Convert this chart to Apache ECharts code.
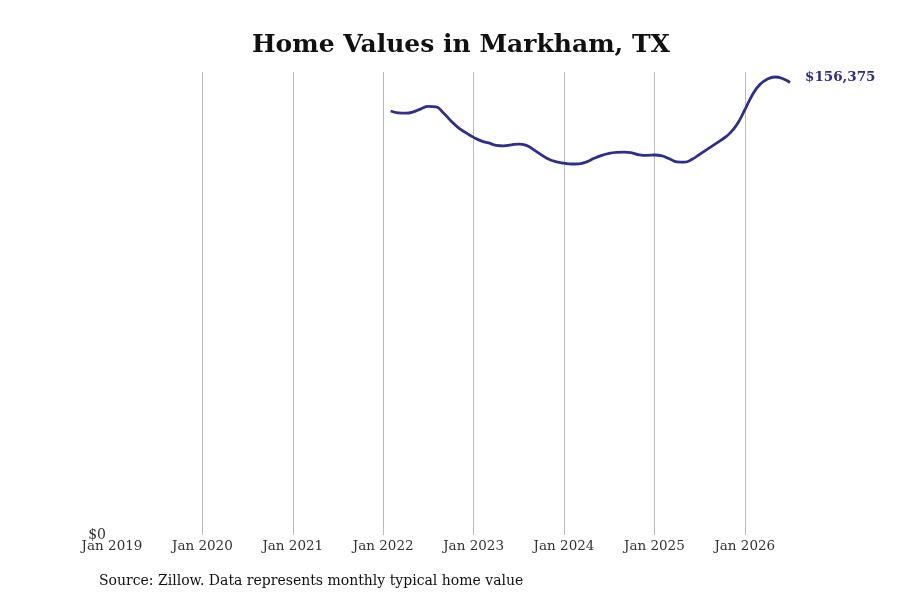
<!DOCTYPE html>
<html>
<head>
<meta charset="utf-8">
<script src="https://cdn.jsdelivr.net/npm/echarts@6/dist/echarts.min.js"></script>
<style>
  html, body { margin: 0; padding: 0; background: #fff; }
  #chart { width: 900px; height: 600px; }
</style>
</head>
<body>
<div id="chart"></div>
<script>
// monthly axis from Jan 2019 to Jul 2026
var monthNames = ['Jan','Feb','Mar','Apr','May','Jun','Jul','Aug','Sep','Oct','Nov','Dec'];
var months = [];
for (var y = 2019; y <= 2026; y++) {
  for (var m = 0; m < 12; m++) {
    if (y === 2026 && m > 6) break;
    months.push(monthNames[m] + ' ' + y);
  }
}

// typical home value, Feb 2022 .. Jul 2026
var valueStart = 'Feb 2022';
var homeValues = [
  146500, 145860, 145760, 146200, 147240, 148100, 147930, 145860, 143100, 140690, 138960,
  137410, 136200, 135510, 134650, 134480, 134830, 135070, 134650, 133100, 131380, 129820, 128960,
  128510, 128200, 128270, 128960, 130170, 131200, 131890, 132240, 132340, 132070, 131380, 131200,
  131310, 131030, 130000, 128960, 128860, 129820, 131550, 133270, 135000, 136720, 138790, 142060,
  146890, 152070, 155690, 157580, 158270, 157760, 156375
];

var startIdx = months.indexOf(valueStart);
var seriesData = months.map(function (d, i) {
  var k = i - startIdx;
  return (k >= 0 && k < homeValues.length) ? homeValues[k] : null;
});

var chart = echarts.init(document.getElementById('chart'));
chart.setOption({
  backgroundColor: '#ffffff',
  animation: false,
  title: {
    text: 'Home Values in Markham, TX',
    left: 247,
    top: 28,
    textStyle: { fontFamily: 'DejaVu Serif', fontWeight: 'bold', fontSize: 25, color: '#111' }
  },
  graphic: [{
    type: 'text',
    left: 99,
    top: 574,
    style: {
      text: 'Source: Zillow. Data represents monthly typical home value',
      fontFamily: 'DejaVu Serif',
      fontSize: 14,
      fill: '#111'
    }
  }],
  grid: { left: 112, right: 110, top: 72, bottom: 65 },
  xAxis: {
    type: 'category',
    data: months,
    boundaryGap: false,
    axisLine: { show: false },
    axisTick: { show: false },
    axisLabel: {
      interval: function (i) { return i % 12 === 0; },
      fontFamily: 'DejaVu Serif',
      fontSize: 13.5,
      color: '#333',
      margin: 4
    },
    splitLine: {
      show: true,
      interval: function (i) { return i % 12 === 0 && i > 0; },
      lineStyle: { color: '#bbbbbb', width: 1 }
    }
  },
  yAxis: {
    type: 'value',
    min: 0,
    max: 160000,
    interval: 160000,
    axisLine: { show: false },
    axisTick: { show: false },
    splitLine: { show: false },
    axisLabel: {
      showMaxLabel: false,
      formatter: function (v) { return '$' + v.toLocaleString('en-US'); },
      fontFamily: 'DejaVu Serif',
      fontSize: 14,
      color: '#333',
      margin: 6
    }
  },
  series: [{
    type: 'line',
    data: seriesData,
    smooth: true,
    showSymbol: false,
    connectNulls: false,
    lineStyle: { color: '#2e2e8c', width: 2.8 },
    itemStyle: { color: '#2e2e8c' },
    endLabel: {
      show: true,
      formatter: function (p) { return '$' + p.value.toLocaleString('en-US'); },
      fontFamily: 'DejaVu Serif',
      fontWeight: 'bold',
      fontSize: 13.5,
      color: '#2e2e8c',
      offset: [7, -5]
    }
  }]
});
</script>
</body>
</html>
